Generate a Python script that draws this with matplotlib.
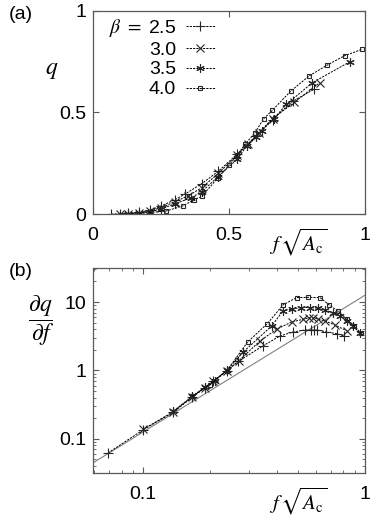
import numpy as np
import matplotlib
matplotlib.use("Agg")
import matplotlib.pyplot as plt
from matplotlib.ticker import FixedLocator, NullFormatter, LogLocator

plt.rcParams['font.family'] = ['Liberation Sans', 'DejaVu Sans']
plt.rcParams['mathtext.fontset'] = 'stix'

betas = ["2.5", "3.0", "3.5", "4.0"]

# panel (a): q vs f sqrt(A_c)
xa_25 = [0.068, 0.10, 0.13, 0.17, 0.21, 0.25, 0.30, 0.34, 0.40, 0.46, 0.53, 0.60, 0.66, 0.735, 0.813]
qa_25 = [0.0, 0.002, 0.004, 0.009, 0.02, 0.04, 0.07, 0.10, 0.15, 0.21, 0.295, 0.385, 0.465, 0.556, 0.614]
xa_30 = [0.10, 0.13, 0.17, 0.21, 0.25, 0.30, 0.35, 0.40, 0.46, 0.53, 0.57, 0.61, 0.66, 0.74, 0.834]
qa_30 = [0.001, 0.003, 0.007, 0.016, 0.032, 0.06, 0.09, 0.13, 0.20, 0.29, 0.345, 0.40, 0.47, 0.55, 0.647]
xa_35 = [0.13, 0.17, 0.21, 0.25, 0.30, 0.36, 0.40, 0.46, 0.53, 0.565, 0.60, 0.62, 0.665, 0.711, 0.807, 0.945]
qa_35 = [0.002, 0.005, 0.012, 0.025, 0.05, 0.08, 0.11, 0.185, 0.27, 0.335, 0.38, 0.41, 0.47, 0.54, 0.647, 0.75]
xa_40 = [0.17, 0.21, 0.27, 0.33, 0.37, 0.40, 0.46, 0.50, 0.53, 0.56, 0.595, 0.628, 0.659, 0.727, 0.795, 0.861, 0.926, 0.988]
qa_40 = [0.003, 0.008, 0.016, 0.04, 0.07, 0.087, 0.18, 0.24, 0.29, 0.345, 0.40, 0.47, 0.51, 0.605, 0.68, 0.733, 0.78, 0.81]

# panel (b): dq/df vs f sqrt(A_c)
xb_25 = [0.0695, 0.1, 0.137, 0.167, 0.19, 0.207, 0.238, 0.268, 0.346, 0.414, 0.475, 0.536, 0.57, 0.59, 0.61, 0.67, 0.745, 0.807]
db_25 = [0.062, 0.135, 0.245, 0.41, 0.56, 0.69, 0.98, 1.35, 2.27, 3.19, 3.65, 3.9, 3.9, 3.9, 3.9, 3.65, 3.45, 3.19]
xb_30 = [0.1, 0.137, 0.167, 0.19, 0.207, 0.238, 0.27, 0.336, 0.40, 0.467, 0.527, 0.562, 0.585, 0.616, 0.66, 0.732, 0.827]
db_30 = [0.137, 0.25, 0.41, 0.56, 0.70, 0.98, 1.38, 2.69, 4.0, 5.1, 5.6, 5.9, 5.9, 5.6, 5.3, 4.6, 3.8]
xb_35 = [0.137, 0.167, 0.19, 0.21, 0.238, 0.283, 0.38, 0.428, 0.47, 0.515, 0.565, 0.616, 0.66, 0.715, 0.771, 0.827, 0.886, 0.949]
db_35 = [0.255, 0.42, 0.57, 0.71, 1.0, 1.86, 4.47, 7.5, 7.9, 8.3, 8.3, 8.1, 7.6, 7.0, 6.3, 5.3, 4.4, 3.5]
xb_40 = [0.167, 0.2, 0.238, 0.296, 0.363, 0.428, 0.492, 0.555, 0.627, 0.688, 0.758, 0.827, 0.895, 0.956]
db_40 = [0.42, 0.62, 0.98, 2.6, 4.83, 9.1, 11.6, 11.7, 11.6, 9.1, 7.3, 5.6, 4.5, 3.5]

ref_coef = 4 * np.pi   # dq/df ~ 4 pi f^2 guide line

markers = ['+', 'x', (6, 2, 0), 's']
msizes = [7.5, 6, 6, 3.5]

fig = plt.figure(figsize=(3.81, 5.16), dpi=100)
axa = fig.add_axes([0.244, 0.585, 0.714, 0.394])
axb = fig.add_axes([0.244, 0.0833, 0.714, 0.3977])

def style(ax):
    for s in ax.spines.values():
        s.set_color('0.35')
        s.set_linewidth(0.9)
    ax.tick_params(which='both', direction='in', top=True, right=True,
                   labelsize=14, color='0.35')
    ax.tick_params(axis='x', which='major', length=4, pad=9)
    ax.tick_params(axis='y', which='major', length=4, pad=5)
    ax.tick_params(which='minor', length=2)

xa = [xa_25, xa_30, xa_35, xa_40]
qa = [qa_25, qa_30, qa_35, qa_40]
for i in range(4):
    axa.plot(xa[i], qa[i], color='black', linestyle=(0, (2.2, 1.2)), lw=0.7,
             marker=markers[i], ms=msizes[i], mew=0.8, mfc='none' if i == 3 else 'black',
             mec='0.15', label=(r"$\beta\ =\ $" if i == 0 else "") + betas[i])
axa.set_xlim(0, 1)
axa.set_ylim(0, 1)
axa.set_xticks([0, 0.5, 1])
axa.set_yticks([0, 0.5, 1])
axa.set_xticklabels(["0", "0.5", "1"])
axa.set_yticklabels(["0", "0.5", "1"])
style(axa)
leg = axa.legend(loc='upper left', bbox_to_anchor=(0.03, 1.01), markerfirst=False,
                 frameon=False, fontsize=14, handlelength=1.5, handletextpad=0.5,
                 labelspacing=0.12, borderaxespad=0)
axa.text(-0.15, 0.71, "$q$", transform=axa.transAxes, fontsize=17, ha='center', va='center')
axa.text(0.755, -0.14, r"$f\,\sqrt{A_{\rm c}}$", transform=axa.transAxes, fontsize=15,
         ha='center', va='center')
fig.text(0.055, 0.972, "(a)", fontsize=14, ha='center', va='center')

xb = [xb_25, xb_30, xb_35, xb_40]
db = [db_25, db_30, db_35, db_40]
fx = np.array([0.0595, 1.0])
axb.plot(fx, ref_coef * fx**2, color='0.5', lw=0.8)
for i in range(4):
    axb.plot(xb[i], db[i], color='black', linestyle=(0, (2.2, 1.2)), lw=0.7,
             marker=markers[i], ms=msizes[i], mew=0.8, mfc='none' if i == 3 else 'black',
             mec='0.15')
axb.set_xscale('log')
axb.set_yscale('log')
axb.set_xlim(0.0595, 1)
axb.set_ylim(10**-1.5, 10**1.5)
axb.xaxis.set_major_locator(FixedLocator([0.1, 1]))
axb.set_xticklabels(["0.1", "1"])
axb.yaxis.set_major_locator(FixedLocator([0.1, 1, 10]))
axb.set_yticklabels(["0.1", "1", "10"])
axb.xaxis.set_minor_locator(LogLocator(base=10, subs=np.arange(2, 10)))
axb.yaxis.set_minor_locator(LogLocator(base=10, subs=np.arange(2, 10)))
axb.xaxis.set_minor_formatter(NullFormatter())
axb.yaxis.set_minor_formatter(NullFormatter())
style(axb)
axb.text(-0.19, 0.74, r"$\dfrac{\partial q}{\partial f}$", transform=axb.transAxes,
         fontsize=17, ha='center', va='center')
axb.text(0.755, -0.14, r"$f\,\sqrt{A_{\rm c}}$", transform=axb.transAxes, fontsize=15,
         ha='center', va='center')
fig.text(0.055, 0.473, "(b)", fontsize=14, ha='center', va='center')

fig.savefig("out.png", dpi=100)
